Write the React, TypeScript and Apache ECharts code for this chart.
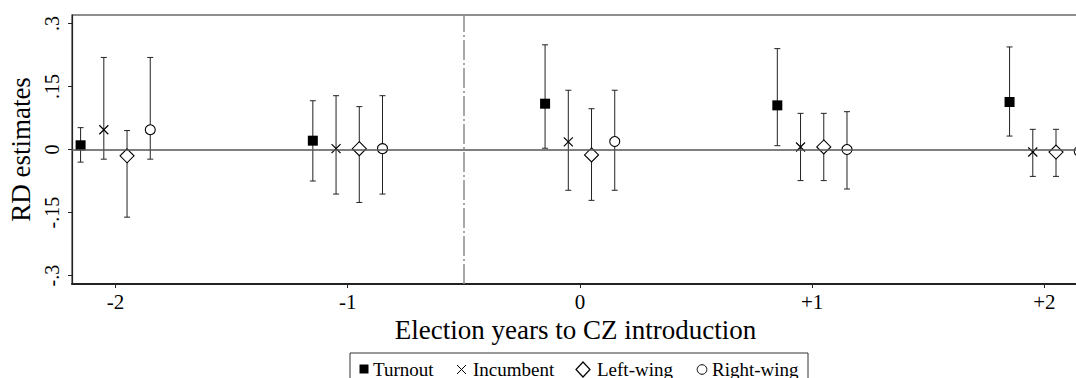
import React, { useEffect, useRef } from "react";
import * as echarts from "echarts";

// Election years relative to CZ introduction
const periods = [-2, -1, 0, 1, 2];
const seriesNames = ["Turnout", "Incumbent", "Left-wing", "Right-wing"];
const offsets = [-0.15, -0.05, 0.05, 0.15];

const turnoutEst = [0.01, 0.021, 0.109, 0.105, 0.113];
const turnoutHi = [0.052, 0.116, 0.249, 0.24, 0.244];
const turnoutLo = [-0.03, -0.075, 0.003, 0.009, 0.032];

const incumbentEst = [0.047, 0.002, 0.018, 0.006, -0.006];
const incumbentHi = [0.219, 0.128, 0.141, 0.086, 0.048];
const incumbentLo = [-0.023, -0.106, -0.097, -0.074, -0.064];

const leftEst = [-0.015, 0.002, -0.013, 0.006, -0.006];
const leftHi = [0.045, 0.102, 0.097, 0.086, 0.048];
const leftLo = [-0.161, -0.126, -0.121, -0.074, -0.064];

const rightEst = [0.047, 0.002, 0.019, 0.0, -0.004];
const rightHi = [0.219, 0.128, 0.141, 0.09, 0.05];
const rightLo = [-0.023, -0.106, -0.097, -0.094, -0.06];

const xTickValues = [-2, -1, 0, 1, 2];
const xTickLabels = ["-2", "-1", "0", "+1", "+2"];
const yTickValues = [-0.3, -0.15, 0, 0.15, 0.3];
const yTickLabels = ["-.3", "-.15", "0", ".15", ".3"];

const SERIF = "'Liberation Serif', 'Times New Roman', serif";

export default function App() {
  const ref = useRef<HTMLDivElement | null>(null);

  useEffect(() => {
    if (!ref.current) return;
    const chart = echarts.init(ref.current, undefined, { renderer: "svg" });

    const ests = [turnoutEst, incumbentEst, leftEst, rightEst];
    const his = [turnoutHi, incumbentHi, leftHi, rightHi];
    const los = [turnoutLo, incumbentLo, leftLo, rightLo];

    const symbols: any[] = [
      { symbol: "rect", size: 10, color: "#000", border: "#000", bw: 0 },
      { symbol: "path://M0,0L10,10M10,0L0,10", size: 9, color: "none", border: "#000", bw: 1.2 },
      { symbol: "diamond", size: 14, color: "#fff", border: "#000", bw: 1.1 },
      { symbol: "circle", size: 10, color: "#fff", border: "#000", bw: 1.1 },
    ];

    const series: any[] = [];
    seriesNames.forEach((name, si) => {
      const barData = periods.map((p, i) => [p + offsets[si], los[si][i], his[si][i]]);
      const s: any = {
        name: name + " CI",
        type: "custom",
        clip: false,
        z: 2,
        encode: { x: 0, y: [1, 2] },
        data: barData,
        renderItem: (params: any, api: any) => {
          const x = api.value(0);
          const lo = api.value(1);
          const hi = api.value(2);
          const a = api.coord([x, hi]);
          const b = api.coord([x, lo]);
          const w = 3;
          const st = { stroke: "#222", lineWidth: 1 };
          return {
            type: "group",
            children: [
              { type: "line", shape: { x1: a[0], y1: a[1], x2: b[0], y2: b[1] }, style: st },
              { type: "line", shape: { x1: a[0] - w, y1: a[1], x2: a[0] + w, y2: a[1] }, style: st },
              { type: "line", shape: { x1: b[0] - w, y1: b[1], x2: b[0] + w, y2: b[1] }, style: st },
            ],
          };
        },
      };
      if (si === 0) {
        s.markLine = {
          silent: true,
          symbol: "none",
          label: { show: false },
          animation: false,
          data: [
            { yAxis: 0, lineStyle: { color: "#555", width: 1.6, type: "solid" } },
            { xAxis: -0.5, lineStyle: { color: "#8a8a8a", width: 1.5, type: [20, 3, 2, 3] } },
          ],
        };
      }
      series.push(s);
    });

    seriesNames.forEach((name, si) => {
      const sym = symbols[si];
      series.push({
        name,
        type: "scatter",
        clip: false,
        z: 4,
        symbol: sym.symbol,
        symbolSize: sym.size,
        itemStyle: { color: sym.color, borderColor: sym.border, borderWidth: sym.bw, opacity: 1 },
        data: periods.map((p, i) => [p + offsets[si], ests[si][i]]),
      });
    });

    const lx = 350;
    const ly = 353;
    const cy = 369;
    const txtStyle = (t: string, x: number) => ({
      type: "text",
      x,
      y: cy,
      style: { text: t, font: `19px ${SERIF}`, fill: "#000", verticalAlign: "middle", align: "left" },
    });

    const option: any = {
      animation: false,
      backgroundColor: "#fff",
      grid: {
        left: 72,
        top: 15,
        right: -3,
        bottom: 94,
        show: true,
        borderColor: "#6a6a6a",
        borderWidth: 1.5,
        outerBoundsMode: "none",
      },
      xAxis: {
        type: "value",
        min: -2.187,
        max: 2.149,
        name: "Election years to CZ introduction",
        nameLocation: "middle",
        nameGap: 30,
        nameTextStyle: { fontFamily: SERIF, fontSize: 27, color: "#000" },
        axisLine: { show: true, onZero: false, lineStyle: { color: "#222", width: 2 } },
        axisTick: { show: true, length: 4, customValues: xTickValues, lineStyle: { color: "#222" } },
        axisLabel: {
          customValues: xTickValues,
          margin: 7,
          fontFamily: SERIF,
          fontSize: 21,
          color: "#000",
          formatter: (v: number) => xTickLabels[xTickValues.indexOf(v)] ?? String(v),
        },
        splitLine: { show: false },
      },
      yAxis: {
        type: "value",
        min: -0.32,
        max: 0.32,
        name: "RD estimates",
        nameLocation: "middle",
        nameGap: 34,
        nameTextStyle: { fontFamily: SERIF, fontSize: 27, color: "#000" },
        axisLine: { show: true, onZero: false, lineStyle: { color: "#222", width: 1.2 } },
        axisTick: { show: true, length: 4, customValues: yTickValues, lineStyle: { color: "#222" } },
        axisLabel: {
          customValues: yTickValues,
          rotate: 90,
          margin: 10,
          fontFamily: SERIF,
          fontSize: 20,
          color: "#000",
          formatter: (v: number) => {
            const idx = yTickValues.findIndex((t) => Math.abs(t - v) < 1e-9);
            return idx >= 0 ? yTickLabels[idx] : String(v);
          },
        },
        splitLine: { show: false },
      },
      legend: { show: false },
      graphic: [
        {
          type: "rect",
          shape: { x: lx, y: ly, width: 458, height: 40 },
          style: { fill: "#fff", stroke: "#333", lineWidth: 1 },
        },
        { type: "rect", shape: { x: 359.5, y: 364.5, width: 9, height: 9 }, style: { fill: "#000" } },
        txtStyle(seriesNames[0], 373),
        { type: "line", shape: { x1: 457, y1: 365, x2: 466, y2: 374 }, style: { stroke: "#000", lineWidth: 1 } },
        { type: "line", shape: { x1: 466, y1: 365, x2: 457, y2: 374 }, style: { stroke: "#000", lineWidth: 1 } },
        txtStyle(seriesNames[1], 473),
        {
          type: "polygon",
          shape: { points: [[583, 362], [590, 369.5], [583, 377], [576, 369.5]] },
          style: { fill: "#fff", stroke: "#000", lineWidth: 1.2 },
        },
        txtStyle(seriesNames[2], 597),
        { type: "circle", shape: { cx: 702, cy: 369.5, r: 4.8 }, style: { fill: "#fff", stroke: "#000", lineWidth: 1 } },
        txtStyle(seriesNames[3], 712),
      ],
      series,
    };

    chart.setOption(option);
    return () => chart.dispose();
  }, []);

  return (
    <div
      ref={ref}
      style={{ position: "absolute", left: 0, top: 0, width: 1076, height: 378, background: "#fff" }}
    />
  );
}
